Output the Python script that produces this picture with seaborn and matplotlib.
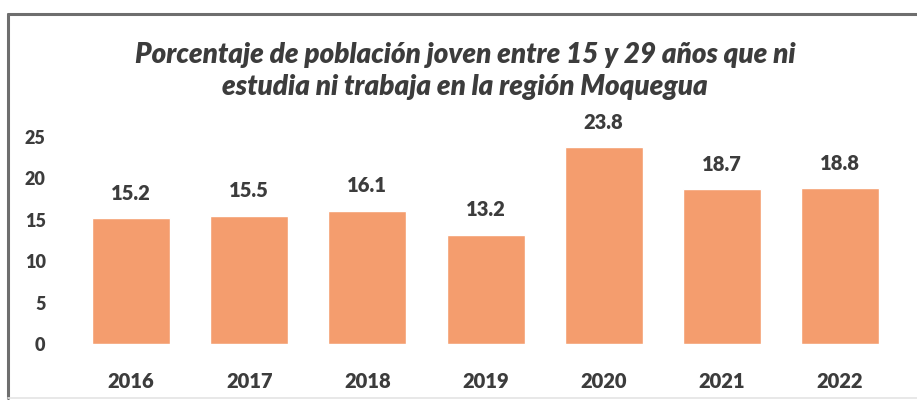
"""
Porcentaje de población joven (15-29) que ni estudia ni trabaja — Moquegua
"""
import matplotlib
matplotlib.use("Agg")
import matplotlib.pyplot as plt
from matplotlib.lines import Line2D
import pandas as pd
import seaborn as sns

# ─ Data ─────────────────────────────────────────────────────────────── #
years  = ["2016", "2017", "2018", "2019", "2020", "2021", "2022"]
values = [15.2, 15.5, 16.1, 13.2, 23.8, 18.7, 18.8]
yticks = [0, 5, 10, 15, 20, 25]
title  = ("Porcentaje de población joven entre 15 y 29 años que ni\n"
          "estudia ni trabaja en la región Moquegua")

BAR  = "#F49D6E"
TEXT = "#3C3C3C"

# ─ Set up ───────────────────────────────────────────────────────────── #
sns.set_theme(style="white")
plt.rcParams["font.family"] = ["Lato", "DejaVu Sans"]

df = pd.DataFrame({"year": years, "value": values})

fig = plt.figure(figsize=(9.17, 4.01), dpi=100)
ax = fig.add_axes([0.0785, 0.142, 0.902, 0.558])

sns.barplot(data=df, x="year", y="value", color=BAR, saturation=1,
            width=0.66, ax=ax)

ax.bar_label(ax.containers[0], fmt="%.1f", padding=11,
             fontsize=14.5, fontweight="heavy", color=TEXT)

ax.set_ylim(0, 27)
ax.set_xlim(-0.5, len(years) - 0.5)
ax.set_yticks(yticks)
ax.set_yticklabels([str(t) for t in yticks])
ax.set_xlabel("")
ax.set_ylabel("")
ax.tick_params(axis="y", length=0, pad=19, labelsize=13, labelcolor=TEXT)
ax.tick_params(axis="x", length=0, pad=20, labelsize=14.5, labelcolor=TEXT)
for lab in ax.get_xticklabels() + ax.get_yticklabels():
    lab.set_fontweight("heavy")
sns.despine(ax=ax, left=True, bottom=True)
ax.grid(False)

fig.text(0.507, 0.823, title, ha="center", va="center", fontsize=20,
         fontweight="heavy", style="italic", color=TEXT, linespacing=1.3)

# frame of the scanned box
fig.add_artist(Line2D([8 / 917, 1.0], [1 - 14 / 401, 1 - 14 / 401],
                      transform=fig.transFigure, color="#6E6E6E", lw=2.2))
fig.add_artist(Line2D([8 / 917, 8 / 917], [1 - 14 / 401, 3 / 401],
                      transform=fig.transFigure, color="#6E6E6E", lw=2.2))
fig.add_artist(Line2D([8 / 917, 1.0], [3 / 401, 3 / 401],
                      transform=fig.transFigure, color="#E4E4E4", lw=1.2))

fig.savefig("out.png", dpi=100)
